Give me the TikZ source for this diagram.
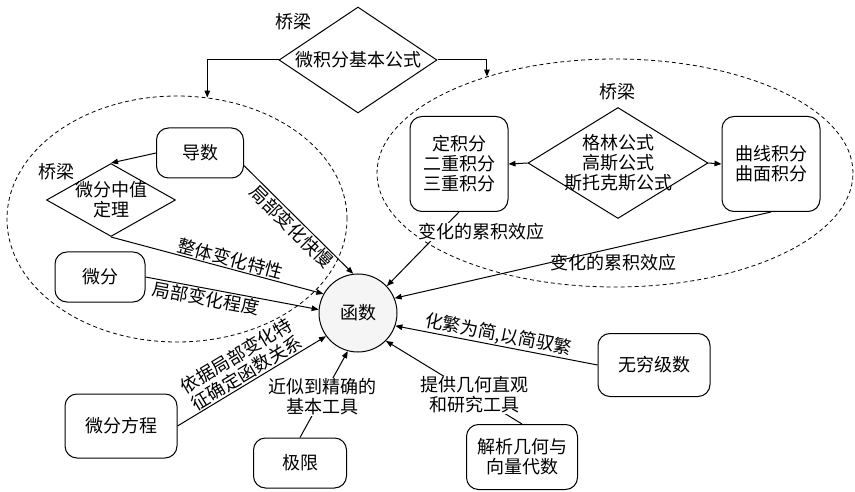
\documentclass[tikz,border=0pt]{standalone}
\usepackage{fontspec}
\setmainfont{Noto Sans CJK SC}
\usetikzlibrary{arrows.meta,positioning,shapes.geometric}

\begin{document}
\begin{tikzpicture}[x=1pt,y=-1pt,font=\fontsize{18}{20}\selectfont,line width=1pt,
   box/.style={draw,rounded corners=12pt,align=center,inner sep=2pt},
   bridge/.style={draw,diamond,align=center,inner sep=-5pt},
   grp/.style={draw,ellipse,dash pattern=on 4pt off 3pt,line width=0.8pt,inner sep=0pt},
   arr/.style={-{Triangle[length=7pt,width=5.5pt]}},
   lbl/.style={inner sep=1pt}]
  \useasboundingbox (0,0) rectangle (855,492);
  % dashed groups
  \node[grp,minimum width=340,minimum height=246] (gl) at (177,219) {};
  \node[grp,minimum width=476,minimum height=228] (gr) at (615,173) {};
  % bridges
  \node[bridge,aspect=1.5,minimum width=158,minimum height=106] (jb) at (358,60) {微积分基本公式};
  \node (q1) at (293,22) {桥梁};
  \node[bridge,aspect=1.65,minimum width=180,minimum height=111] (gs) at (618,163) {格林公式\\高斯公式\\斯托克斯公式};
  \node (q2) at (617,92) {桥梁};
  \node[bridge,aspect=1.77,minimum width=129,minimum height=73] (zz) at (111,200) {微分中值\\定理};
  \node (q3) at (56,172) {桥梁};
  % boxes
  \node[box,minimum width=98,minimum height=95] (dj) at (459,164) {定积分\\二重积分\\三重积分};
  \node[box,minimum width=98,minimum height=95] (qx) at (771,164) {曲线积分\\曲面积分};
  \node[box,minimum width=87,minimum height=50] (ds) at (200,153) {导数};
  \node[box,minimum width=90,minimum height=50] (wf) at (100,277) {微分};
  \node[circle,draw,fill=gray!8,minimum size=78] (fn) at (358,313) {函数};
  \node[box,minimum width=112,minimum height=64] (fc) at (121,426) {微分方程};
  \node[box,minimum width=93,minimum height=50] (jx) at (300,463) {极限};
  \node[box,minimum width=111,minimum height=65] (jh) at (522,457) {解析几何与\\向量代数};
  \node[box,minimum width=112,minimum height=63] (wq) at (654,365) {无穷级数};
  % connectors
  \draw[arr] (jb.west) -| (gl.76);
  \draw[arr] (jb.east) -| (gr.143);
  \draw[arr] (gs.west) -- (dj.east);
  \draw[arr] (gs.east) -- (qx.west);
  \draw[arr] (ds.west) -- (zz.north);
  \draw[arr] (ds.-16) -- (fn.97) node[midway,sloped,below,lbl] {局部变化快慢};
  \draw[arr] (zz.south) -- (fn.151) node[pos=0.55,sloped,above,lbl] {整体变化特性};
  \draw[arr] (wf.east) -- (fn.175) node[pos=0.36,sloped,below,lbl] {局部变化程度};
  \draw[arr] (fc.east) -- (fn.216) node[pos=0.5,sloped,above,lbl,align=center] {依据局部变化特\\征确定函数关系};
  \draw[arr] (jx.north) -- (fn.255) node[pos=0.47,lbl,fill=white,align=center] {近似到精确的\\基本工具};
  \draw[arr] (jh.north) -- (fn.315) node[pos=0.35,lbl,fill=white,align=center] {提供几何直观\\和研究工具};
  \draw[arr] (wq.west) -- (fn.341) node[midway,sloped,above,lbl] {化繁为简,以简驭繁};
  \draw[arr] (dj.south) -- (fn.43) node[pos=0.27,lbl,fill=white,xshift=42pt] {变化的累积效应};
  \draw[arr] (qx.south) -- (fn.22) node[pos=0.59,anchor=west,lbl] {变化的累积效应};
\end{tikzpicture}
\end{document}
